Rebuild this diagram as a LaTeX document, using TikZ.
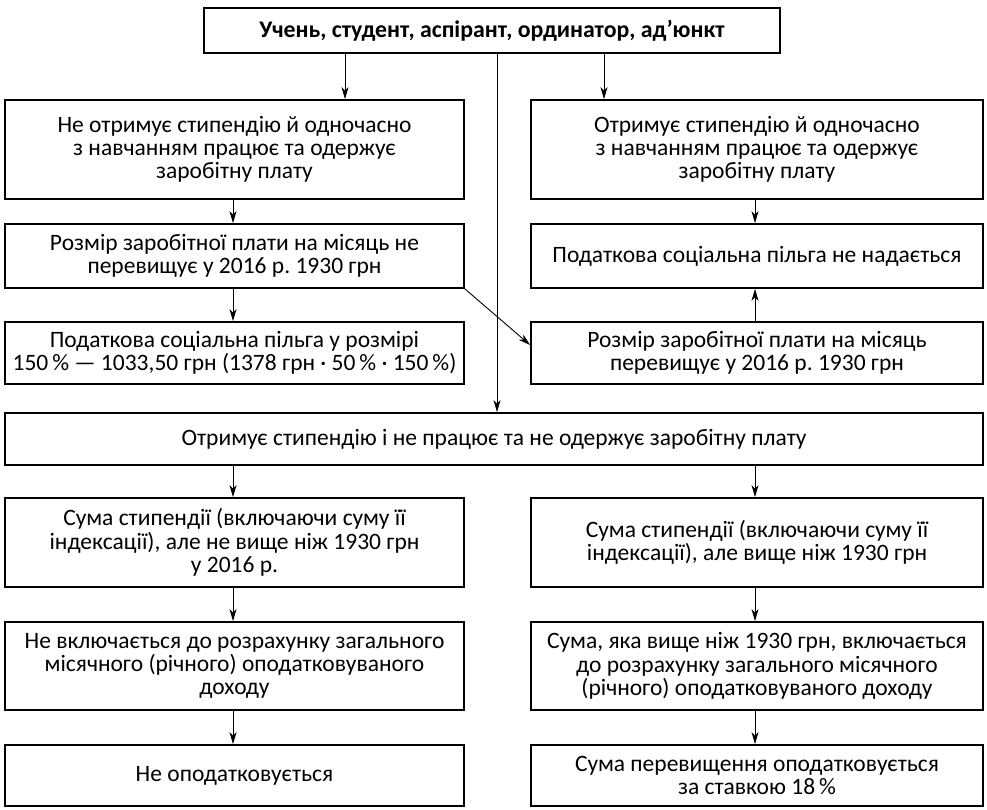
\documentclass[tikz,border=0pt]{standalone}
\usepackage{fontspec}
\setmainfont{Carlito}
\usetikzlibrary{arrows.meta}
\frenchspacing
\begin{document}
\begin{tikzpicture}[x=1pt,y=-1pt,
  box/.style={draw, line width=1.8pt, inner sep=0pt, align=center,
    font=\fontsize{23.5}{23.3}\selectfont},
  lbox/.style={box, minimum width=459pt},
  rbox/.style={box, minimum width=452pt},
  arr/.style={line width=0.9pt, -{Stealth[length=12pt,width=7pt,inset=3.5pt]}}]
\useasboundingbox (0,0) rectangle (987,809);
\node[box, minimum width=576pt, minimum height=45pt, font=\fontsize{23.8}{23.3}\selectfont\bfseries] (top) at (492,30.5)
  {Учень, студент, аспірант, ординатор, ад’юнкт};
\node[lbox, minimum height=99pt] (L1) at (234.5,149.5)
  {Не отримує стипендію й одночасно\\з навчанням працює та одержує\\заробітну плату};
\node[rbox, minimum height=99pt] (R1) at (757,149.5)
  {Отримує стипендію й одночасно\\з навчанням працює та одержує\\заробітну плату};
\node[lbox, minimum height=64pt] (L2) at (234.5,256)
  {Розмір заробітної плати на місяць не\\перевищує у 2016 р. 1930 грн};
\node[rbox, minimum height=64pt] (R2) at (757,256)
  {Податкова соціальна пільга не надається};
\node[lbox, minimum height=62pt] (L3) at (234.5,353)
  {Податкова соціальна пільга у розмірі\\150\,\% — 1033,50 грн (1378 грн · 50\,\% · 150\,\%)};
\node[rbox, minimum height=62pt] (R3) at (757,353)
  {Розмір заробітної плати на місяць\\перевищує у 2016 р. 1930 грн};
\node[box, minimum width=978pt, minimum height=52pt] (W) at (494,439)
  {Отримує стипендію і не працює та не одержує заробітну плату};
\node[lbox, minimum height=89pt] (L4) at (234.5,542.5)
  {Сума стипендії (включаючи суму її\\індексації), але не вище ніж 1930 грн\\у 2016 р.};
\node[rbox, minimum height=89pt] (R4) at (757,542.5)
  {Сума стипендії (включаючи суму її\\індексації), але вище ніж 1930 грн};
\node[lbox, minimum height=88pt] (L5) at (234.5,666)
  {Не включається до розрахунку загального\\місячного (річного) оподатковуваного\\доходу};
\node[rbox, minimum height=88pt] (R5) at (757,666)
  {Сума, яка вище ніж 1930 грн, включається\\до розрахунку загального місячного\\(річного) оподатковуваного доходу};
\node[lbox, minimum height=61pt] (L6) at (234.5,775.5)
  {Не оподатковується};
\node[rbox, minimum height=61pt] (R6) at (757,775.5)
  {Сума перевищення оподатковується\\за ставкою 18\,\%};
% connectors
\draw[arr] (top.south -| 345,0) -- (L1.north -| 345,0);
\draw[arr] (top.south -| 604,0) -- (R1.north -| 604,0);
\draw[arr] (top.south -| 497,0) -- (W.north -| 497,0);
\draw[arr] (L1.south -| 233,0) -- (L2.north -| 233,0);
\draw[arr] (L2.south -| 233,0) -- (L3.north -| 233,0);
\draw[arr] (L2.south east) -- ([yshift=8pt]R3.west);
\draw[arr] (R1.south -| 755,0) -- (R2.north -| 755,0);
\draw[arr] (R3.north -| 755,0) -- (R2.south -| 755,0);
\draw[arr] (W.south -| 233,0) -- (L4.north -| 233,0);
\draw[arr] (W.south -| 755,0) -- (R4.north -| 755,0);
\draw[arr] (L4.south -| 233,0) -- (L5.north -| 233,0);
\draw[arr] (R4.south -| 755,0) -- (R5.north -| 755,0);
\draw[arr] (L5.south -| 233,0) -- (L6.north -| 233,0);
\draw[arr] (R5.south -| 755,0) -- (R6.north -| 755,0);
\end{tikzpicture}
\end{document}
